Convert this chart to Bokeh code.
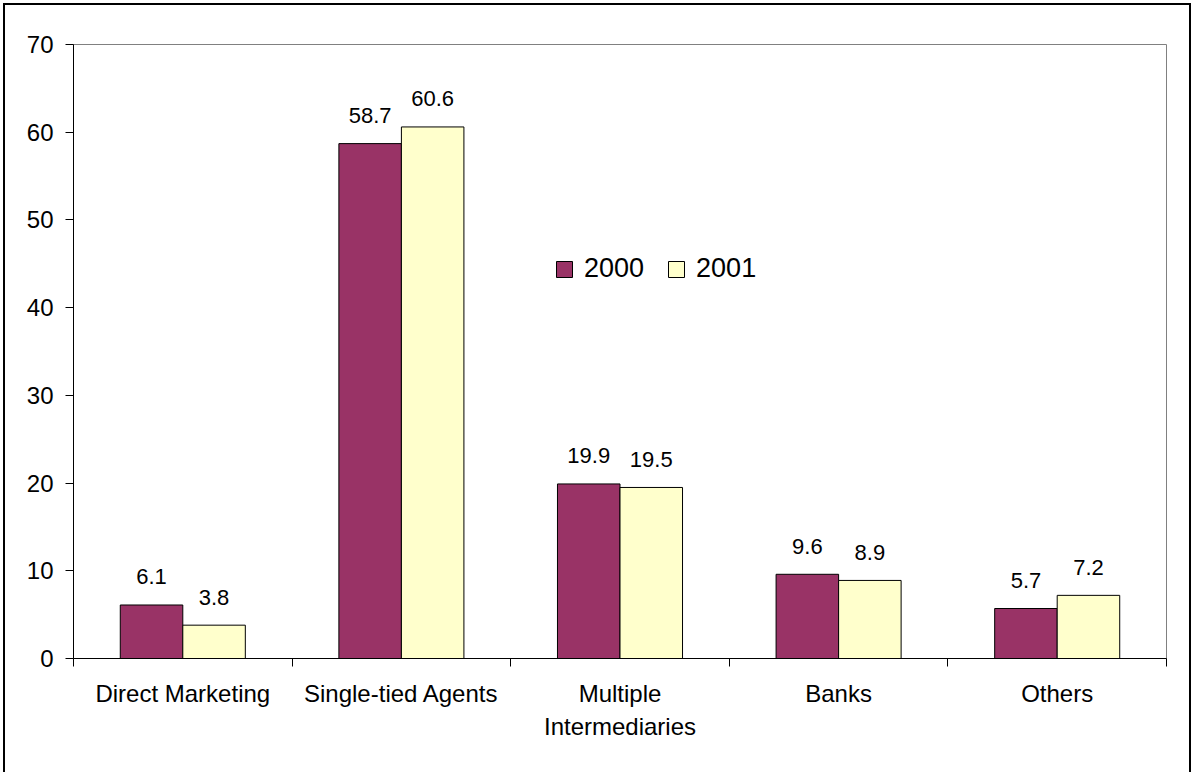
from bokeh.plotting import figure
from bokeh.models import ColumnDataSource, Range1d, FixedTicker, Legend, LegendItem
from bokeh.core.properties import value
from bokeh.embed import file_html
from bokeh.resources import INLINE

# ---- data ----
categories = ["Direct Marketing", "Single-tied Agents", "Multiple\nIntermediaries", "Banks", "Others"]
series_names = ["2000", "2001"]
values_2000 = [6.1, 58.7, 19.9, 9.6, 5.7]
values_2001 = [3.8, 60.6, 19.5, 8.9, 7.2]
y_ticks = [0, 10, 20, 30, 40, 50, 60, 70]
series_colors = ["#993366", "#FFFFCC"]

FONT = "Liberation Sans"
BAR_W = 0.286
OFFSETS = [-0.143, 0.143]

p = figure(width=1192, height=772, output_backend="svg", toolbar_location=None,
           x_range=Range1d(0, len(categories)), y_range=Range1d(0, 70),
           min_border_left=73, min_border_right=26, min_border_top=44, min_border_bottom=114)
p.xgrid.visible = False
p.ygrid.visible = False
p.outline_line_color = "#808080"
p.outline_line_width = 1
p.background_fill_color = "white"
p.border_fill_alpha = 0

# outer chart border (left, top, right edges) drawn as the host element's background
p.styles = {
    "background": (
        "linear-gradient(#000,#000) 3px 3px / 2px 900px no-repeat, "
        "linear-gradient(#000,#000) 3px 3px / 1188px 2px no-repeat, "
        "linear-gradient(#000,#000) 1189px 3px / 2px 900px no-repeat, "
        "#ffffff"
    )
}

centers = [i + 0.5 for i in range(len(categories))]

renderers = []
for vals, off, col, name in zip([values_2000, values_2001], OFFSETS, series_colors, series_names):
    src = ColumnDataSource(dict(
        x=[c + off for c in centers],
        top=vals,
        label=[f"{v:.1f}" for v in vals],
    ))
    r = p.vbar(x="x", top="top", bottom=0, width=BAR_W, source=src,
               fill_color=col, line_color="black", line_width=1)
    renderers.append(r)
    p.text(x="x", y="top", text="label", source=src, text_align="center",
           text_baseline="alphabetic", y_offset=-28, text_font=value(FONT),
           text_font_size="22px", text_color="black")

# x axis
xa = p.xaxis[0]
xa.ticker = FixedTicker(ticks=centers, minor_ticks=list(range(len(categories) + 1)))
xa.major_label_overrides = {c: name for c, name in zip(centers, categories)}
xa.major_tick_out = 0
xa.major_tick_in = 0
xa.minor_tick_out = 8
xa.minor_tick_in = 0
xa.minor_tick_line_color = "black"
xa.axis_line_color = "black"
xa.major_label_standoff = 13
xa.major_label_text_font = FONT
xa.major_label_text_font_size = "24px"
xa.major_label_text_color = "black"
xa.major_label_text_line_height = 1.25

# y axis
ya = p.yaxis[0]
ya.ticker = FixedTicker(ticks=y_ticks, minor_ticks=[])
ya.major_tick_out = 8
ya.major_tick_in = 0
ya.minor_tick_line_color = None
ya.axis_line_color = "black"
ya.major_tick_line_color = "black"
ya.major_label_standoff = 12
ya.major_label_text_font = FONT
ya.major_label_text_font_size = "24px"
ya.major_label_text_color = "black"

legend = Legend(items=[LegendItem(label=n, renderers=[r]) for n, r in zip(series_names, renderers)],
                orientation="horizontal", location=(481, 374))
legend.border_line_color = None
legend.background_fill_alpha = 0
legend.padding = 0
legend.margin = 0
legend.spacing = 22
legend.glyph_width = 20
legend.glyph_height = 20
legend.label_standoff = 10
legend.label_text_font = FONT
legend.label_text_font_size = "27px"
legend.label_text_color = "black"
p.add_layout(legend)

open("out.html", "w").write(file_html(p, INLINE))
